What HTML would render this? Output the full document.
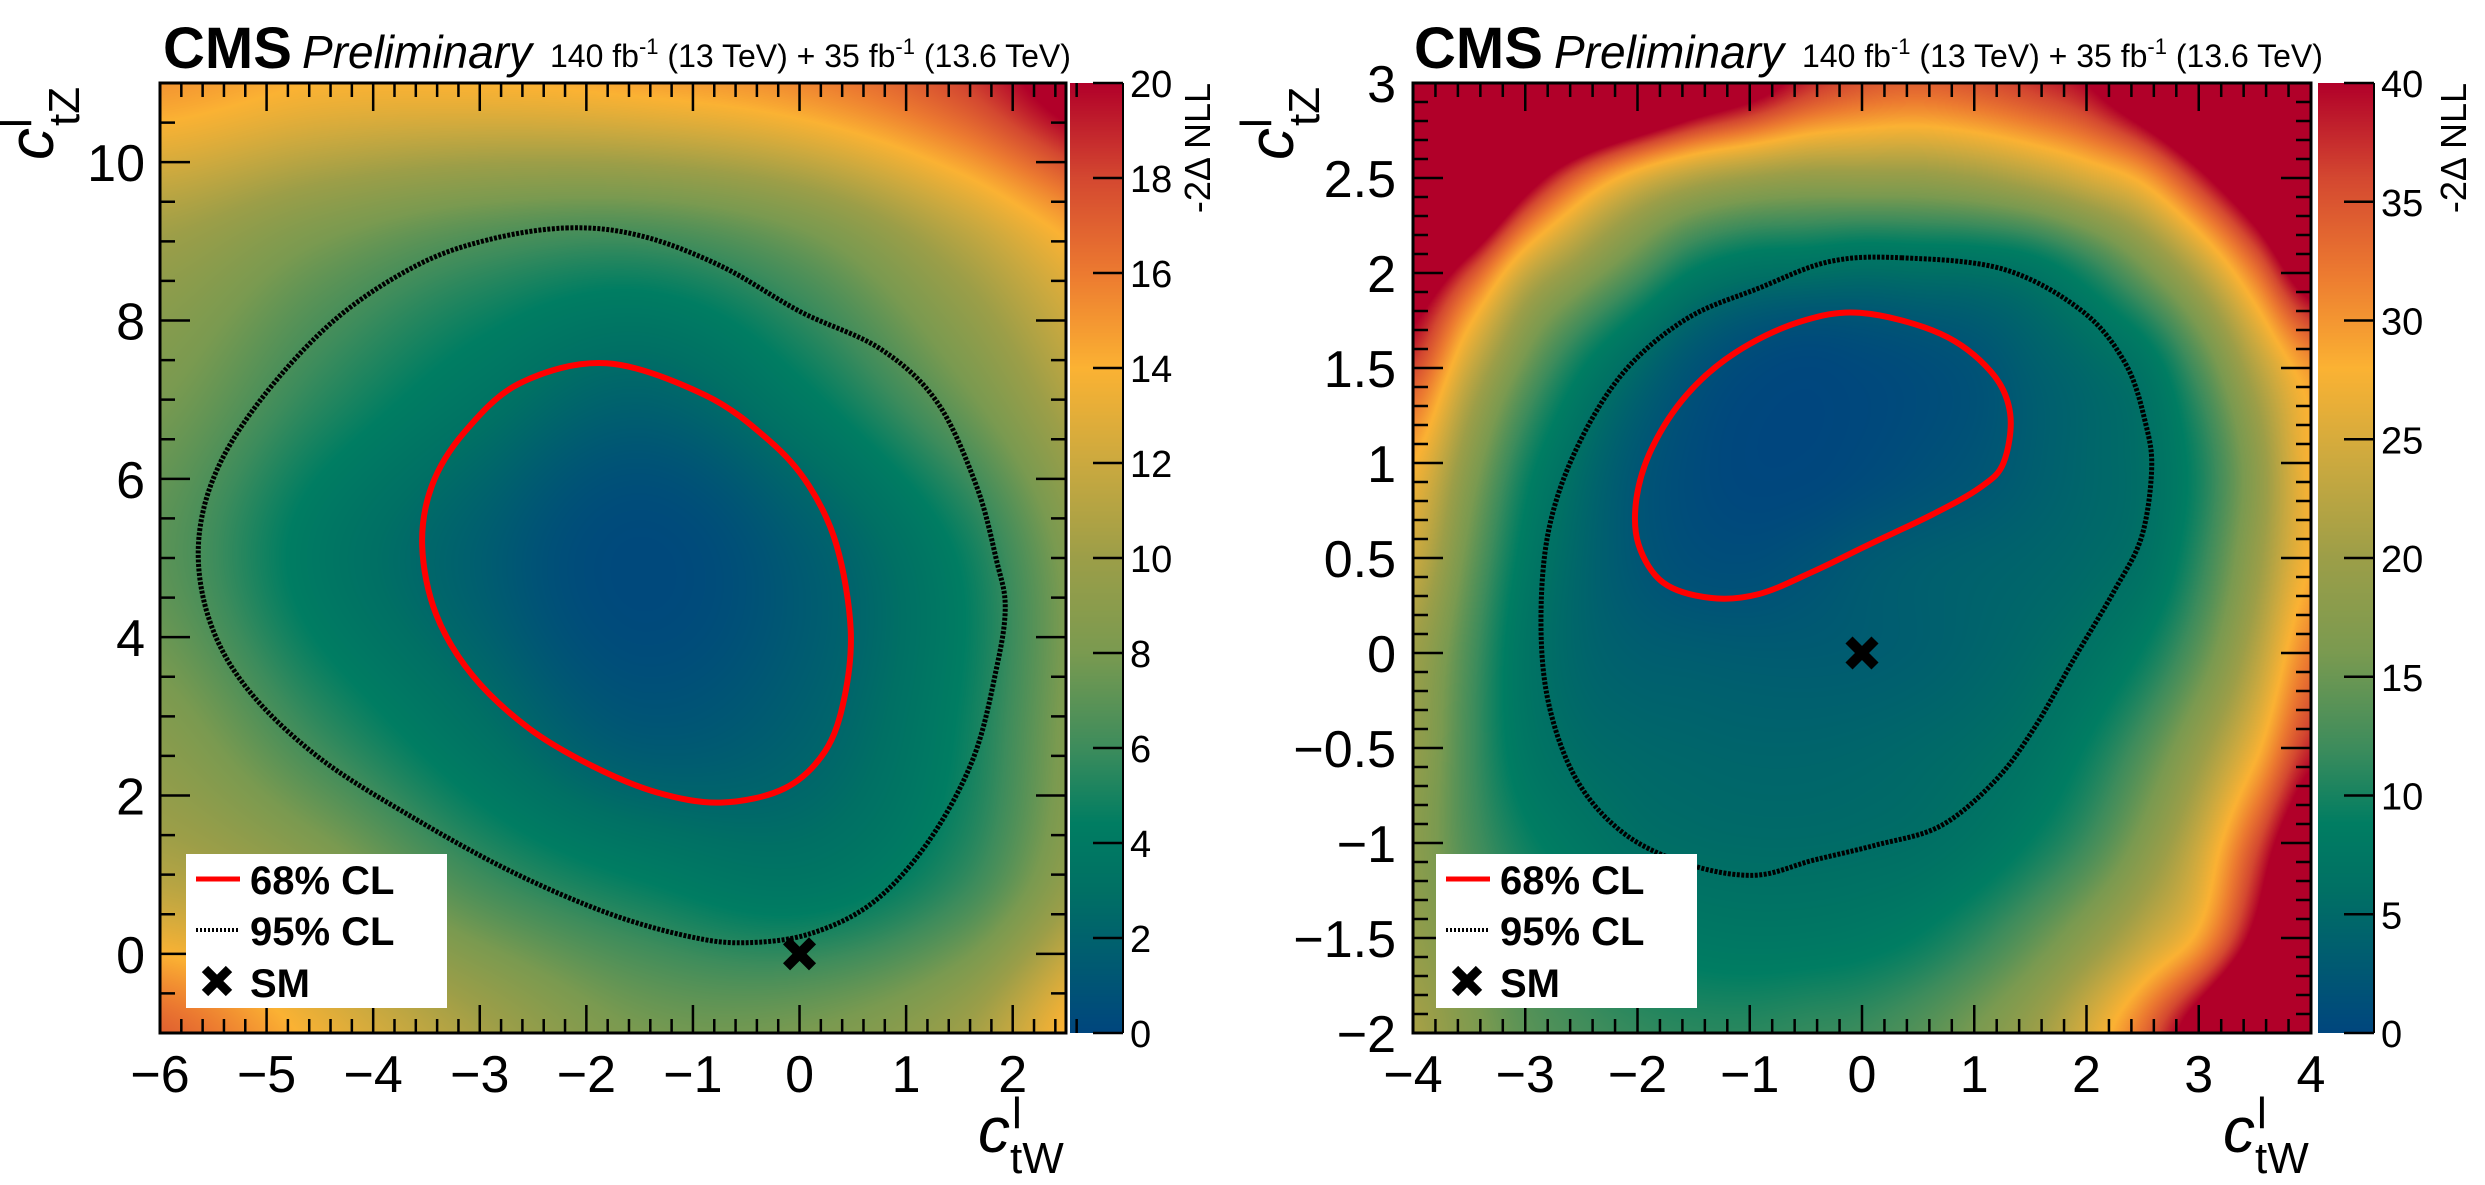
<!DOCTYPE html>
<html><head><meta charset="utf-8"><style>
html,body{margin:0;padding:0;background:#fff;}
#wrap{position:relative;width:2485px;height:1185px;overflow:hidden;font-family:"Liberation Sans",Arial,sans-serif;}
canvas{position:absolute;}
svg{position:absolute;left:0;top:0;}
</style></head><body>
<div id="wrap">
<canvas id="hmL"></canvas>
<canvas id="hmR"></canvas>
<canvas id="cbL"></canvas>
<canvas id="cbR"></canvas>
<svg id="svg" width="2485" height="1185" xmlns="http://www.w3.org/2000/svg"></svg>
</div>
<script>
// ---- data: left panel ----
const leftGridX = [-6,-4.5,-3,-1.5,0,1.5,3];
const leftGridY = [-1,1,3,5,7,9,11];
const leftNLL = [
 [17,13.5,10.5,8,8,10,16],
 [11,9,6,4.3,3.5,5.5,11],
 [8.5,5.5,3,1,1.8,4.5,10],
 [7,3.8,1.7,0.2,1.5,4.5,10],
 [8,5.5,3.5,2,4,7.5,12],
 [10,8,6.5,6,7.5,11,15],
 [15,14,14,14.5,15.5,18,23]
];
const left68 = [[-1.81,7.46],[-0.89,7.06],[-0.29,6.49],[0.09,5.91],[0.35,5.15],[0.48,4.10],[0.42,3.23],[0.24,2.56],[-0.14,2.09],[-0.74,1.91],[-1.34,2.04],[-1.94,2.37],[-2.54,2.85],[-3.07,3.52],[-3.41,4.29],[-3.54,5.15],[-3.45,5.91],[-3.15,6.58],[-2.62,7.21]];
const left95 = [[-2.17,9.17],[-2.92,9.02],[-3.6,8.69],[-4.35,8.02],[-5.02,7.06],[-5.47,6.1],[-5.64,5.15],[-5.53,4.19],[-5.17,3.33],[-4.5,2.47],[-3.6,1.70],[-2.69,1.03],[-1.79,0.51],[-1.04,0.22],[-0.52,0.14],[0.09,0.25],[0.69,0.65],[1.21,1.42],[1.63,2.47],[1.85,3.62],[1.93,4.38],[1.85,4.96],[1.66,5.91],[1.29,6.97],[0.76,7.64],[0.01,8.11],[-0.74,8.69],[-1.49,9.07]];
const leftXTicks = [-6,-5,-4,-3,-2,-1,0,1,2];
const leftYTicks = [0,2,4,6,8,10];
const leftCbTicks = [0,2,4,6,8,10,12,14,16,18,20];
// ---- data: right panel ----
const rightGridX = [-4,-3.5,-3,-2.5,-2,-1.5,-1,-0.5,0,0.5,1,1.5,2,2.5,3,3.5,4];
const rightGridY = [-2,-1.5,-1,-0.5,0,0.5,1,1.5,2,2.5,3];
const rightNLL = [
 [21,17,14,12.5,11.5,11,11,11.5,12,13.5,16,19.5,25,33,45,60,75],
 [19,15,12,10,8.5,7.8,7.5,7.6,8,9,11,14,18,23,29,42,60],
 [18,13,9.5,7.5,6,5.5,5.3,5.3,5.5,5.9,7,9,12,17,24,35,48],
 [19,12.5,7.5,5.5,4.8,4.5,4.3,4.3,4.5,4.9,5.5,6.6,9,13,19,27,38],
 [20,13,7,4.5,3.5,3.2,3,3,3.2,3.6,4.3,5.2,6.5,9,14,22,32],
 [24,15,8,4.5,2.3,1.2,1.0,1.6,2.6,3.3,3.8,4.3,5,6.3,11,19,28],
 [28,18,10,5.5,2.4,0.8,0.1,0.1,0.5,1.2,2,3.3,4.5,5.8,10,18,28],
 [36,24,15,9,5,2.0,0.6,0.2,0.5,1,1.8,3.5,5,7,13,22,30],
 [48,36,24,18,13,8.5,6.5,6,5.5,5.8,6,7,10,15,22,32,45],
 [85,65,45,33,26,22,20,19,19,19,20,22,25,29,38,50,65],
 [100,90,80,70,60,50,44,38,35,34,35,37,40,48,60,75,90]
];
const right68 = [[-0.01,1.79],[0.70,1.68],[1.15,1.48],[1.32,1.26],[1.26,1.0],[1.05,0.87],[0.63,0.73],[0.06,0.57],[-0.43,0.43],[-0.92,0.31],[-1.35,0.29],[-1.77,0.37],[-1.99,0.57],[-2.01,0.81],[-1.87,1.08],[-1.56,1.36],[-1.13,1.58],[-0.57,1.74]];
const right95 = [[0.35,2.08],[1.26,2.02],[1.96,1.80],[2.35,1.52],[2.53,1.20],[2.58,0.96],[2.49,0.61],[2.25,0.33],[1.89,-0.03],[1.54,-0.39],[1.19,-0.67],[0.70,-0.91],[0.13,-1.01],[-0.43,-1.09],[-0.96,-1.17],[-1.56,-1.11],[-2.12,-0.95],[-2.54,-0.67],[-2.79,-0.27],[-2.86,0.17],[-2.79,0.65],[-2.54,1.08],[-2.12,1.48],[-1.56,1.76],[-0.92,1.92],[-0.29,2.06]];
const rightXTicks = [-4,-3,-2,-1,0,1,2,3,4];
const rightYTicks = [-2,-1.5,-1,-0.5,0,0.5,1,1.5,2,2.5,3];
const rightCbTicks = [0,5,10,15,20,25,30,35,40];
const smPoint = [0,0];

const stops=[[0,[0,70,126]],[0.15,[0,112,100]],[0.22,[0,125,98]],[0.3,[61,140,92]],[0.4,[122,154,80]],[0.5,[156,158,72]],[0.6,[203,169,63]],[0.7,[251,178,51]],[0.8,[236,122,48]],[0.9,[212,72,48]],[1,[177,0,41]]];
function cmap(t){t=Math.max(0,Math.min(1,t));for(let i=1;i<stops.length;i++){if(t<=stops[i][0]){const a=stops[i-1],b=stops[i];const f=(t-a[0])/(b[0]-a[0]);return [0,1,2].map(k=>a[1][k]+(b[1][k]-a[1][k])*f);}}return stops[stops.length-1][1];}
function cub(p0,p1,p2,p3,t){return 0.5*(2*p1+(-p0+p2)*t+(2*p0-5*p1+4*p2-p3)*t*t+(-p0+3*p1-3*p2+p3)*t*t*t);}
function interp(grid,gx,gy){const ny=grid.length,nx=grid[0].length;const g=(j,i)=>Math.sqrt(grid[Math.max(0,Math.min(ny-1,j))][Math.max(0,Math.min(nx-1,i))]);
 const i=Math.floor(gx),j=Math.floor(gy),tx=gx-i,ty=gy-j;const r=[];for(let m=-1;m<=2;m++){r.push(cub(g(j+m,i-1),g(j+m,i),g(j+m,i+1),g(j+m,i+2),tx));}const s=Math.max(0,cub(r[0],r[1],r[2],r[3],ty));return s*s;}

const panels=[
 {id:'left',hm:'hmL',cb:'cbL',x0:160,x1:1066,y0:83,y1:1033,xmin:-6,xmax:2.5,ymin:-1,ymax:11,gx:leftGridX,gy:leftGridY,grid:leftNLL,zmax:20,c68:left68,c95:left95,xt:leftXTicks,yt:leftYTicks,xminor:0.2,yminor:0.5,cbx0:1070,cbx1:1123,cbt:leftCbTicks,ylab:145,cmsx:163,prelx:302,lumix:550,ytx:53,cbtx:1210,xtitx:978,legx:186,ydec:0},
 {id:'right',hm:'hmR',cb:'cbR',x0:1413,x1:2311,y0:83,y1:1033,xmin:-4,xmax:4,ymin:-2,ymax:3,gx:rightGridX,gy:rightGridY,grid:rightNLL,zmax:40,c68:right68,c95:right95,xt:rightXTicks,yt:rightYTicks,xminor:0.2,yminor:0.1,cbx0:2318,cbx1:2374,cbt:rightCbTicks,ylab:1396,cmsx:1414,prelx:1554,lumix:1802,ytx:1293,cbtx:2466,xtitx:2223,legx:1436,ydec:1}
];
const svg=document.getElementById('svg');const NS='http://www.w3.org/2000/svg';
function el(tag,attrs,parent){const e=document.createElementNS(NS,tag);for(const k in attrs)e.setAttribute(k,attrs[k]);(parent||svg).appendChild(e);return e;}
function fmt(v){return String(v).replace('-','\u2212');}
function smoothPath(pts){const n=pts.length;let d='M'+pts[0][0]+','+pts[0][1];for(let i=0;i<n;i++){const p0=pts[(i-1+n)%n],p1=pts[i],p2=pts[(i+1)%n],p3=pts[(i+2)%n];const c1=[p1[0]+(p2[0]-p0[0])/6,p1[1]+(p2[1]-p0[1])/6],c2=[p2[0]-(p3[0]-p1[0])/6,p2[1]-(p3[1]-p1[1])/6];d+=' C'+c1[0]+','+c1[1]+' '+c2[0]+','+c2[1]+' '+p2[0]+','+p2[1];}return d+'Z';}

panels.forEach(P=>{
 const X=v=>P.x0+(v-P.xmin)/(P.xmax-P.xmin)*(P.x1-P.x0);
 const Y=v=>P.y1-(v-P.ymin)/(P.ymax-P.ymin)*(P.y1-P.y0);
 const W=P.x1-P.x0,H=P.y1-P.y0;
 const cv=document.getElementById(P.hm);cv.width=W;cv.height=H;cv.style.left=P.x0+'px';cv.style.top=P.y0+'px';
 const ctx=cv.getContext('2d');const img=ctx.createImageData(W,H);
 const dgx=P.gx[1]-P.gx[0],dgy=P.gy[1]-P.gy[0];
 for(let py=0;py<H;py++){const yv=P.ymax-(py+0.5)/H*(P.ymax-P.ymin);const gy=(yv-P.gy[0])/dgy;
  for(let px=0;px<W;px++){const xv=P.xmin+(px+0.5)/W*(P.xmax-P.xmin);const gx=(xv-P.gx[0])/dgx;
   const z=interp(P.grid,gx,gy);const c=cmap(z/P.zmax);const o=(py*W+px)*4;img.data[o]=c[0];img.data[o+1]=c[1];img.data[o+2]=c[2];img.data[o+3]=255;}}
 ctx.putImageData(img,0,0);
 const cb=document.getElementById(P.cb);const cw=P.cbx1-P.cbx0;cb.width=cw;cb.height=H;cb.style.left=P.cbx0+'px';cb.style.top=P.y0+'px';
 const cc=cb.getContext('2d');for(let py=0;py<H;py++){const c=cmap(1-(py+0.5)/H);cc.fillStyle='rgb('+c.map(Math.round).join(',')+')';cc.fillRect(0,py,cw,1);}
 const g=el('g',{});
 el('path',{d:smoothPath(P.c95.map(p=>[X(p[0]),Y(p[1])])),fill:'none',stroke:'#000','stroke-width':5,'stroke-dasharray':'3 1.5',},g);
 el('path',{d:smoothPath(P.c68.map(p=>[X(p[0]),Y(p[1])])),fill:'none',stroke:'#ff0000','stroke-width':6,},g);
 const sx=X(smPoint[0]),sy=Y(smPoint[1]);
 const sm=el('g',{},g);
 el('path',{d:`M${sx-13},${sy-13}L${sx+13},${sy+13}M${sx+13},${sy-13}L${sx-13},${sy+13}`,stroke:'#000','stroke-width':10},sm);
 el('rect',{x:P.x0,y:P.y0,width:W,height:H,fill:'none',stroke:'#000','stroke-width':3,},g);
 let d='';
 const xs=Math.round((P.xmax-P.xmin)/P.xminor);
 for(let k=0;k<=xs;k++){const v=P.xmin+k*P.xminor;const major=Math.abs(v-Math.round(v))<1e-6;const L=major?28:14;const x=X(v);d+=`M${x},${P.y1}v${-L}M${x},${P.y0}v${L}`;}
 const ys=Math.round((P.ymax-P.ymin)/P.yminor);
 const ymaj=P.ydec?0.5:2;
 for(let k=0;k<=ys;k++){const v=P.ymin+k*P.yminor;const r=v/ymaj;const major=Math.abs(r-Math.round(r))<1e-6;const L=major?30:15;const y=Y(v);d+=`M${P.x0},${y}h${L}M${P.x1},${y}h${-L}`;}
 el('path',{d:d,stroke:'#000','stroke-width':2.5,fill:'none',},g);
 P.xt.forEach(v=>{const t=el('text',{x:X(v),y:1092,'font-size':52,'text-anchor':'middle',},g);t.textContent=fmt(v);});
 P.yt.forEach(v=>{const t=el('text',{x:P.ylab,y:Y(v)+19,'font-size':52,'text-anchor':'end',},g);t.textContent=fmt(v);});
 let cd='';P.cbt.forEach(v=>{const y=P.y1-v/P.zmax*H;cd+=`M${P.cbx1},${y}h-30`;const t=el('text',{x:P.cbx1+7,y:y+14,'font-size':38,},g);t.textContent=v;});
 el('path',{d:cd,stroke:'#000','stroke-width':2.5,},g);
 el('line',{x1:P.cbx1,y1:P.y0,x2:P.cbx1,y2:P.y1,stroke:'#000','stroke-width':2},g);
 const ct=el('text',{transform:`translate(${P.cbtx},${P.y0}) rotate(-90)`,'font-size':36,'text-anchor':'end',},g);ct.textContent='-2\u0394 NLL';
 const h1=el('text',{x:P.cmsx,y:68,'font-size':58,'font-weight':'bold',},g);h1.textContent='CMS';
 const h2=el('text',{x:P.prelx,y:68,'font-size':46,'font-style':'italic',},g);h2.textContent='Preliminary';
 const h3=el('text',{x:P.lumix,y:67,'font-size':32,},g);
 h3.innerHTML='140 fb<tspan font-size="22" dy="-13">-1</tspan><tspan dy="13"> (13 TeV) + 35 fb</tspan><tspan font-size="22" dy="-13">-1</tspan><tspan dy="13"> (13.6 TeV)</tspan>';
 const yt=el('g',{transform:`translate(${P.ytx},160) rotate(-90)`,},g);
 const yc=el('text',{x:0,y:0,'font-size':64,'font-style':'italic'},yt);yc.textContent='c';
 const ysup=el('text',{x:32,y:-22,'font-size':44},yt);ysup.textContent='l';
 const ysub=el('text',{x:34,y:26,'font-size':44},yt);ysub.textContent='tZ';
 const xtg=el('g',{},g);
 const xc=el('text',{x:P.xtitx,y:1152,'font-size':64,'font-style':'italic'},xtg);xc.textContent='c';
 const xsup=el('text',{x:P.xtitx+34,y:1128,'font-size':44},xtg);xsup.textContent='l';
 const xsub=el('text',{x:P.xtitx+32,y:1173,'font-size':44},xtg);xsub.textContent='tW';
 const lg=el('g',{},g);
 el('rect',{x:P.legx,y:854,width:261,height:154,fill:'#fff'},lg);
 const lx=P.legx+10;
 el('line',{x1:lx,y1:879,x2:lx+44,y2:879,stroke:'#ff0000','stroke-width':5,},lg);
 el('line',{x1:lx,y1:930,x2:lx+44,y2:930,stroke:'#000','stroke-width':4,'stroke-dasharray':'2 2',},lg);
 el('path',{d:`M${lx+9},${969}L${lx+33},${993}M${lx+33},${969}L${lx+9},${993}`,stroke:'#000','stroke-width':9,},lg);
 [['68% CL',879],['95% CL',930],['SM',982]].forEach(e=>{const t=el('text',{x:lx+54,y:e[1]+15,'font-size':40,'font-weight':'bold',},lg);t.textContent=e[0];});
});
</script>
</body></html>
